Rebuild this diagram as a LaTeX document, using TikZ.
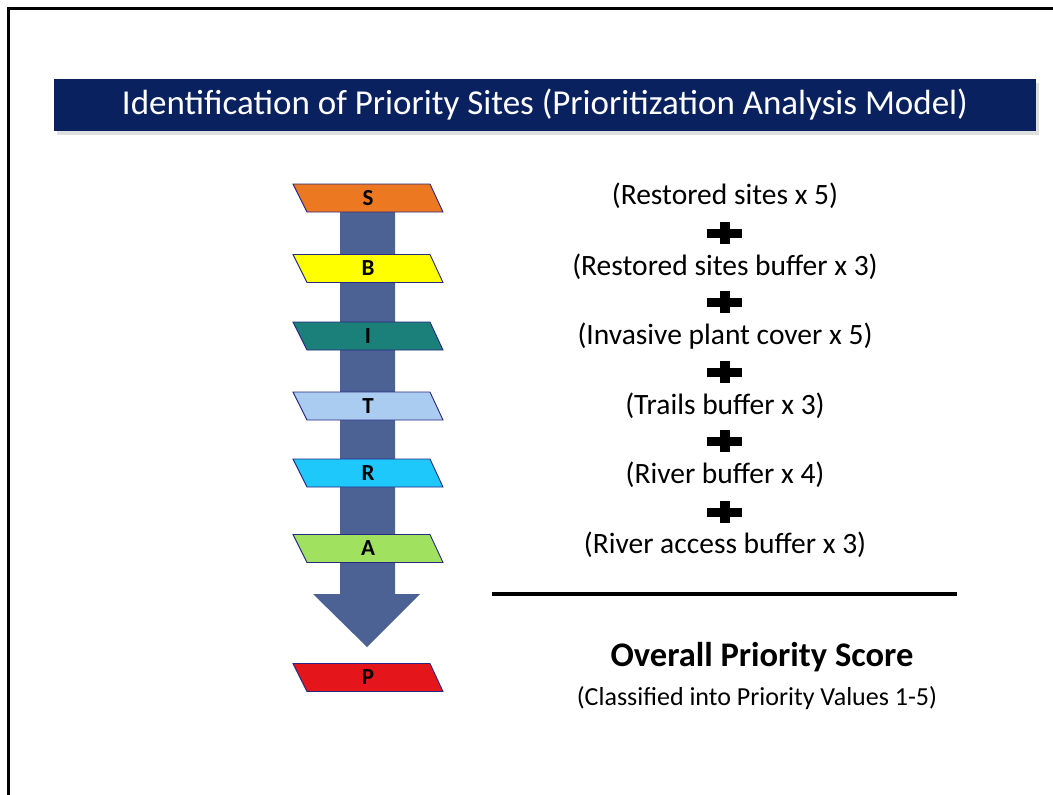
\documentclass[tikz,border=0pt]{standalone}
\usepackage{fontspec}
\setmainfont{Carlito}
\definecolor{navy}{RGB}{10,33,96}
\definecolor{arrowblue}{RGB}{76,98,148}
\definecolor{cS}{RGB}{236,121,34}
\definecolor{cB}{RGB}{255,255,0}
\definecolor{cI}{RGB}{28,128,122}
\definecolor{cT}{RGB}{170,204,240}
\definecolor{cR}{RGB}{30,200,250}
\definecolor{cA}{RGB}{160,226,96}
\definecolor{cP}{RGB}{228,22,28}
\definecolor{edge}{RGB}{40,40,130}
\begin{document}
\begin{tikzpicture}[x=1pt,y=-1pt,
  para/.style={draw=edge, line width=0.9pt},
  letter/.style={font=\fontsize{23}{23}\selectfont\bfseries, inner sep=0pt},
  term/.style={font=\fontsize{29.5}{29.5}\selectfont, inner sep=0pt}]
\useasboundingbox (0,0) rectangle (1053,795);
% slide border
\draw[line width=3pt] (8.5,795) -- (8.5,8.5) -- (1053,8.5);
% title bar
\fill[gray!25] (57,83) rectangle (1039,135);
\fill[navy] (54,79) rectangle (1036,131);
\node[text=white, font=\fontsize{35}{35}\selectfont, inner sep=0pt] (title) at (545,105) {Identification of Priority Sites (Prioritization Analysis Model)};
% arrow
\fill[arrowblue] (340,205) -- (395,205) -- (395,594) -- (420,594) -- (367,647) -- (313,594) -- (340,594) -- cycle;
% parallelograms
\newcommand{\plg}[4]{%
  \draw[para, fill=#2] (293,{#3-14}) -- (430,{#3-14}) -- (443,{#3+14}) -- (307,{#3+14}) -- cycle;
  \node[letter] (#1) at (368,#3) {#4};}
\plg{s}{cS}{198}{S}
\plg{b}{cB}{268.5}{B}
\plg{i}{cI}{336}{I}
\plg{t}{cT}{406}{T}
\plg{r}{cR}{473}{R}
\plg{a}{cA}{548.5}{A}
\plg{p}{cP}{677.5}{P}
% terms
\node[term] (t1) at (725,196) {(Restored sites x 5)};
\node[term] (t2) at (725,267) {(Restored sites buffer x 3)};
\node[term] (t3) at (725,336) {(Invasive plant cover x 5)};
\node[term] (t4) at (725,406) {(Trails buffer x 3)};
\node[term] (t5) at (725,475) {(River buffer x 4)};
\node[term] (t6) at (725,545) {(River access buffer x 3)};
% plus signs
\foreach \y in {233,302,372,441,512}{
  \fill (707,\y-4.5) rectangle (742,\y+4.5);
  \fill (719.5,\y-11) rectangle (729.5,\y+11);
}
% rule
\coordinate (l1) at (492,594);
\coordinate (l2) at (957,594);
\draw[line width=3.5pt] (l1) -- (l2);
\node[font=\fontsize{34.5}{34.5}\selectfont\bfseries, inner sep=0pt] (score) at (762,657) {Overall Priority Score};
\node[font=\fontsize{26}{26}\selectfont, inner sep=0pt] (cls) at (757,698) {(Classified into Priority Values 1-5)};
\end{tikzpicture}
\end{document}
